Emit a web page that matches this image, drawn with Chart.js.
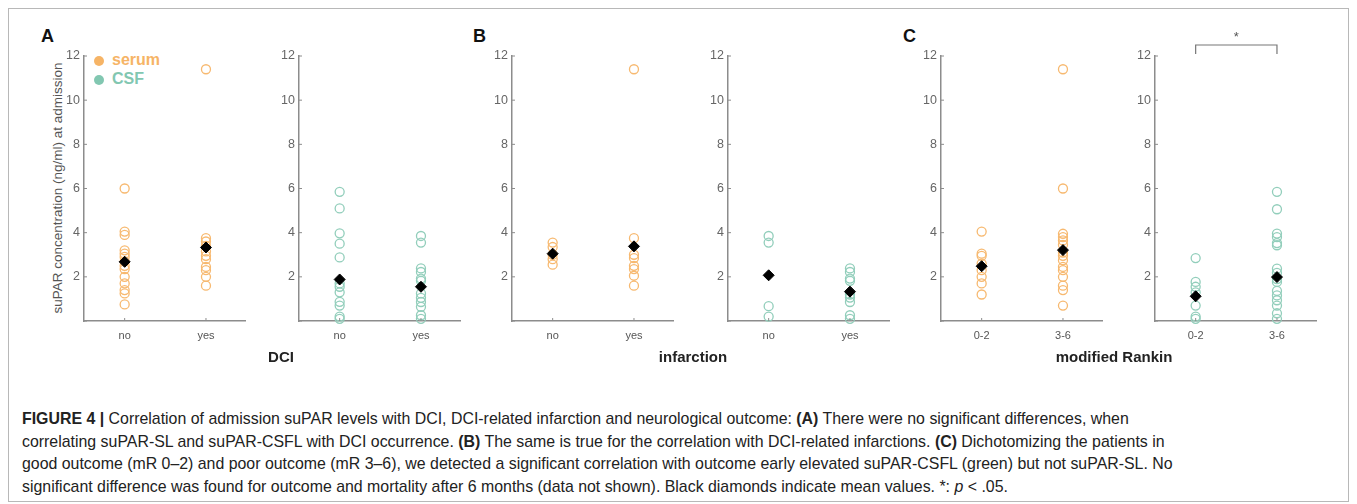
<!DOCTYPE html>
<html>
<head>
<meta charset="utf-8">
<script src="https://cdn.jsdelivr.net/npm/chart.js@4.4.1/dist/chart.umd.min.js"></script>
<style>
body { margin: 0; background: #fff; font-family: "Liberation Sans", Arial, sans-serif; }
#wrap { position: relative; width: 1357px; height: 504px; overflow: hidden; }
#frame { position: absolute; left: 8px; top: 8px; width: 1341px; height: 494px; border: 1px solid #b8b8b8; box-sizing: border-box; }
canvas.p { position: absolute; top: 20px; }
.letter { position: absolute; top: 26px; font-weight: bold; font-size: 18px; color: #111; }
.axtitle { position: absolute; top: 348px; font-weight: bold; font-size: 15px; color: #222; transform: translateX(-50%); white-space: nowrap; }
.ytitle { position: absolute; left: -72px; top: 180px; width: 260px; height: 16px; font-size: 13.5px; color: #555; text-align: center; transform: rotate(-90deg); white-space: nowrap; }
.dot { position: absolute; width: 10px; height: 10px; border-radius: 50%; }
.leg { position: absolute; font-weight: bold; font-size: 16px; }
#caption { position: absolute; left: 22px; top: 408px; font-size: 15.9px; line-height: 22.6px; color: #222; white-space: nowrap; }
</style>
</head>
<body>
<div id="wrap">
  <div id="frame"></div>

  <div class="letter" style="left:41px">A</div>
  <div class="letter" style="left:473px">B</div>
  <div class="letter" style="left:903px">C</div>

  <div class="ytitle">suPAR concentration (ng/ml) at admission</div>

  <div class="dot" style="left:94px;top:56px;background:#f6b466"></div>
  <div class="leg" style="left:112px;top:51px;color:#f6b466">serum</div>
  <div class="dot" style="left:94px;top:75px;background:#82c7b1"></div>
  <div class="leg" style="left:112px;top:70px;color:#82c7b1">CSF</div>

  <canvas class="p" id="p1" width="211" height="341" style="left:44px"></canvas>
  <canvas class="p" id="p2" width="211" height="341" style="left:259px"></canvas>
  <canvas class="p" id="p3" width="211" height="341" style="left:472px"></canvas>
  <canvas class="p" id="p4" width="211" height="341" style="left:688px"></canvas>
  <canvas class="p" id="p5" width="211" height="341" style="left:901px"></canvas>
  <canvas class="p" id="p6" width="211" height="341" style="left:1115px"></canvas>

  <div class="axtitle" style="left:281px">DCI</div>
  <div class="axtitle" style="left:693px">infarction</div>
  <div class="axtitle" style="left:1114px">modified Rankin</div>

  <div id="caption">
    <b>FIGURE 4 |</b> Correlation of admission suPAR levels with DCI, DCI-related infarction and neurological outcome: <b>(A)</b> There were no significant differences, when<br>
    correlating suPAR-SL and suPAR-CSFL with DCI occurrence. <b>(B)</b> The same is true for the correlation with DCI-related infarctions. <b>(C)</b> Dichotomizing the patients in<br>
    good outcome (mR 0–2) and poor outcome (mR 3–6), we detected a significant correlation with outcome early elevated suPAR-CSFL (green) but not suPAR-SL. No<br>
    significant difference was found for outcome and mortality after 6 months (data not shown). Black diamonds indicate mean values. *: <i>p</i> &lt; .05.
  </div>
</div>

<script>
const dciLabels = ['no', 'yes'];
const infLabels = ['no', 'yes'];
const mrsLabels = ['0-2', '3-6'];
const yTickValues = [0, 2, 4, 6, 8, 10, 12];

// A: DCI
const serumDciNo = [6.0, 4.05, 3.9, 3.2, 3.05, 2.9, 2.7, 2.5, 2.35, 2.0, 1.7, 1.4, 1.25, 0.75];
const serumDciYes = [11.4, 3.75, 3.6, 3.4, 3.15, 2.95, 2.8, 2.45, 2.3, 2.0, 1.6];
const csfDciNo = [5.85, 5.1, 3.97, 3.5, 2.88, 1.7, 1.55, 1.3, 0.87, 0.7, 0.2, 0.1];
const csfDciYes = [3.85, 3.55, 2.38, 2.22, 1.92, 1.82, 1.25, 1.05, 0.86, 0.64, 0.26, 0.1];
const meanSerumDci = [2.68, 3.33];
const meanCsfDci = [1.88, 1.55];

// B: infarction
const serumInfNo = [3.55, 3.35, 3.0, 2.8, 2.55];
const serumInfYes = [11.4, 3.75, 3.0, 2.85, 2.5, 2.35, 2.05, 1.6];
const csfInfNo = [3.85, 3.55, 0.67, 0.2];
const csfInfYes = [2.38, 2.22, 1.92, 1.82, 1.2, 1.06, 0.86, 0.26, 0.1];
const meanSerumInf = [3.05, 3.38];
const meanCsfInf = [2.07, 1.33];

// C: modified Rankin
const serumMrsGood = [4.05, 3.05, 2.95, 2.6, 2.3, 2.0, 1.7, 1.2];
const serumMrsPoor = [11.4, 6.0, 3.95, 3.8, 3.65, 3.45, 3.1, 2.95, 2.75, 2.45, 2.3, 2.0, 1.6, 1.4, 0.7];
const csfMrsGood = [2.85, 1.77, 1.55, 1.3, 0.7, 0.2, 0.1];
const csfMrsPoor = [5.85, 5.06, 3.96, 3.8, 3.53, 3.43, 2.37, 2.18, 1.9, 1.77, 1.36, 1.16, 0.94, 0.7, 0.35, 0.1];
const meanSerumMrs = [2.48, 3.21];
const meanCsfMrs = [1.12, 1.99];

const serumColor = '#f7b970';
const csfColor = '#92cebb';
const axisColor = '#8c8c8c';

function toPoints(x, values) {
    return values.map(v => ({ x: x, y: v }));
}

// small MATLAB style ticks pointing into the plot
const innerTicks = {
    id: 'innerTicks',
    afterDraw(chart) {
        const ctx = chart.ctx;
        const xs = chart.scales.x, ys = chart.scales.y;
        ctx.save();
        ctx.strokeStyle = axisColor;
        ctx.lineWidth = 1;
        yTickValues.forEach(v => {
            const y = ys.getPixelForValue(v);
            ctx.beginPath();
            ctx.moveTo(xs.left, y);
            ctx.lineTo(xs.left + 3, y);
            ctx.stroke();
        });
        [1, 2].forEach(v => {
            const x = xs.getPixelForValue(v);
            ctx.beginPath();
            ctx.moveTo(x, ys.bottom);
            ctx.lineTo(x, ys.bottom - 3);
            ctx.stroke();
        });
        ctx.restore();
    }
};

const sigBracket = {
    id: 'sigBracket',
    afterDraw(chart, args, opts) {
        if (!opts.show) return;
        const ctx = chart.ctx;
        const xs = chart.scales.x;
        const x1 = xs.getPixelForValue(1), x2 = xs.getPixelForValue(2);
        ctx.save();
        ctx.strokeStyle = '#777';
        ctx.lineWidth = 1.2;
        ctx.beginPath();
        ctx.moveTo(x1, 34);
        ctx.lineTo(x1, 25);
        ctx.lineTo(x2, 25);
        ctx.lineTo(x2, 34);
        ctx.stroke();
        ctx.fillStyle = '#555';
        ctx.font = '13px "Liberation Sans", Arial';
        ctx.textAlign = 'center';
        ctx.textBaseline = 'middle';
        ctx.fillText('*', (x1 + x2) / 2, 17);
        ctx.restore();
    }
};

function panelChart(canvasId, labels, groupA, groupB, means, color, starred) {
    const data = {
        datasets: [{
            label: 'mean',
            data: [{ x: 1, y: means[0] }, { x: 2, y: means[1] }],
            pointStyle: 'rectRot',
            pointRadius: 5.5,
            backgroundColor: '#000',
            borderColor: '#000',
            borderWidth: 1,
            clip: false
        }, {
            label: labels[0],
            data: toPoints(1, groupA),
            pointRadius: 4.5,
            borderColor: color,
            backgroundColor: 'rgba(0,0,0,0)',
            borderWidth: 1.3,
            clip: false
        }, {
            label: labels[1],
            data: toPoints(2, groupB),
            pointRadius: 4.5,
            borderColor: color,
            backgroundColor: 'rgba(0,0,0,0)',
            borderWidth: 1.3,
            clip: false
        }]
    };
    const config = {
        type: 'scatter',
        data: data,
        options: {
            responsive: false,
            animation: false,
            devicePixelRatio: 1,
            layout: { padding: { top: 36, right: 10, bottom: 10, left: 0 } },
            plugins: {
                legend: { display: false },
                tooltip: { enabled: false },
                sigBracket: { show: starred }
            },
            scales: {
                x: {
                    type: 'linear',
                    min: 0.5,
                    max: 2.48,
                    afterBuildTicks: s => { s.ticks = [{ value: 1 }, { value: 2 }]; },
                    afterFit: s => { s.height = 30; },
                    grid: { display: false, drawTicks: false },
                    border: { display: true, color: axisColor, width: 1.5 },
                    ticks: {
                        padding: 8,
                        color: '#555',
                        font: { size: 11, family: '"Liberation Sans", Arial' },
                        callback: v => labels[v - 1]
                    }
                },
                y: {
                    min: 0,
                    max: 12,
                    afterBuildTicks: s => { s.ticks = yTickValues.map(v => ({ value: v })); },
                    afterFit: s => { s.width = 40; },
                    grid: { display: false, drawTicks: false },
                    border: { display: true, color: axisColor, width: 1.5 },
                    ticks: {
                        padding: 4,
                        color: '#666',
                        font: { size: 12.5, family: '"Liberation Sans", Arial' },
                        callback: v => v === 0 ? '' : v
                    }
                }
            }
        },
        plugins: [innerTicks, sigBracket]
    };

    let ctx = document.getElementById(canvasId).getContext('2d');

    new Chart(ctx, config);
}

panelChart('p1', dciLabels, serumDciNo, serumDciYes, meanSerumDci, serumColor, false);
panelChart('p2', dciLabels, csfDciNo, csfDciYes, meanCsfDci, csfColor, false);
panelChart('p3', infLabels, serumInfNo, serumInfYes, meanSerumInf, serumColor, false);
panelChart('p4', infLabels, csfInfNo, csfInfYes, meanCsfInf, csfColor, false);
panelChart('p5', mrsLabels, serumMrsGood, serumMrsPoor, meanSerumMrs, serumColor, false);
panelChart('p6', mrsLabels, csfMrsGood, csfMrsPoor, meanCsfMrs, csfColor, true);
</script>
</body>
</html>
